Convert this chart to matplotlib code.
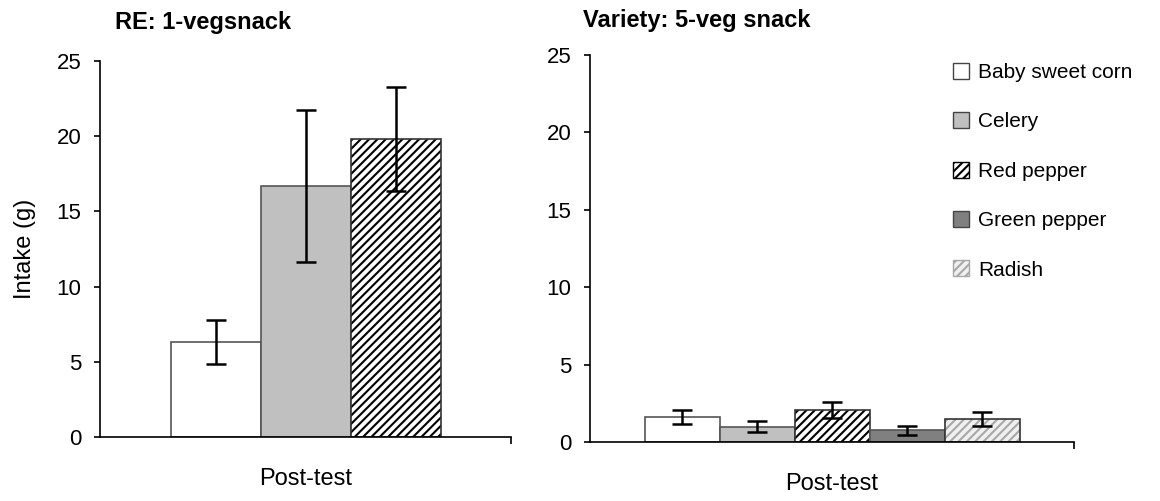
import numpy as np
import matplotlib.pyplot as plt
from matplotlib.patches import Patch

plt.rcParams['font.family'] = ['Liberation Sans', 'DejaVu Sans']
plt.rcParams['hatch.linewidth'] = 1.5

# data
re_labels = ['Baby sweet corn', 'Celery', 'Red pepper']
re_means = [6.3, 16.7, 19.8]
re_err = [1.45, 5.05, 3.45]

var_labels = ['Baby sweet corn', 'Celery', 'Red pepper', 'Green pepper', 'Radish']
var_means = [1.6, 1.0, 2.05, 0.76, 1.5]
var_err = [0.46, 0.37, 0.53, 0.28, 0.45]

# look of each vegetable: (facecolor, hatch, hatch colour)
styles = {
    'Baby sweet corn': ('white', None, None),
    'Celery': ('#c0c0c0', None, None),
    'Red pepper': ('white', '////', 'black'),
    'Green pepper': ('#808080', None, None),
    'Radish': ('#f0f0f0', '////', '#a8a8a8'),
}

fig = plt.figure(figsize=(11.6, 5.01), dpi=100)
ax1 = fig.add_axes([100/1160, 1-437/501, 411/1160, 376/501])
ax2 = fig.add_axes([590/1160, 1-442/501, 484/1160, 387/501])


def draw_bars(ax, labels, means, errs, width):
    n = len(labels)
    xs = 0.5 + (np.arange(n) - (n-1)/2) * width
    for x, lab, m, e in zip(xs, labels, means, errs):
        fc, hatch, hc = styles[lab]
        if hatch:
            ax.bar(x, m, width, color=fc, edgecolor=hc, hatch=hatch, linewidth=0)
            ax.bar(x, m, width, fill=False, edgecolor='#333333', linewidth=1.2)
        else:
            ax.bar(x, m, width, color=fc, edgecolor='#555555', linewidth=1.2)
        ax.errorbar(x, m, yerr=e, fmt='none', ecolor='black', elinewidth=1.8,
                    capsize=7, capthick=1.8)
    ax.set_xlim(0, 1)
    ax.set_ylim(0, 25)
    ax.set_yticks(np.arange(0, 26, 5))
    # only the far-end tick on the x axis
    ax.set_xticks([1])
    ax.set_xticklabels([])
    ax.spines['top'].set_visible(False)
    ax.spines['right'].set_visible(False)
    ax.spines['left'].set_linewidth(1.2)
    ax.spines['bottom'].set_linewidth(1.2)
    ax.tick_params(axis='y', length=4.5, width=1.2, pad=9, labelsize=16)
    ax.tick_params(axis='x', length=5, width=1.2)
    ax.set_xlabel('Post-test', fontsize=17)


draw_bars(ax1, re_labels, re_means, re_err, 90/411)
draw_bars(ax2, var_labels, var_means, var_err, 75/484)
ax1.xaxis.set_label_coords(0.5, -0.083)
ax2.xaxis.set_label_coords(0.5, -0.08)

ax1.set_ylabel('Intake (g)', fontsize=17)
ax1.yaxis.set_label_coords(-0.155, 0.5)

fig.text(115/1160, 1-23/501, 'RE: 1-vegsnack', fontsize=17, fontweight='bold', va='center')
fig.text(583/1160, 1-20/501, 'Variety: 5-veg snack', fontsize=17, fontweight='bold', va='center')

handles = []
for lab in var_labels:
    fc, hatch, hc = styles[lab]
    edge = hc if hatch else '#444444'
    handles.append(Patch(facecolor=fc, edgecolor=edge, hatch=hatch, linewidth=1))
leg = fig.legend(handles, var_labels, loc='upper left', bbox_to_anchor=(934/1160, 1-44/501),
                 frameon=False, fontsize=15, handlelength=0.8, handleheight=0.8,
                 handletextpad=0.4, labelspacing=1.45)

fig.savefig('out.png', dpi=100)
